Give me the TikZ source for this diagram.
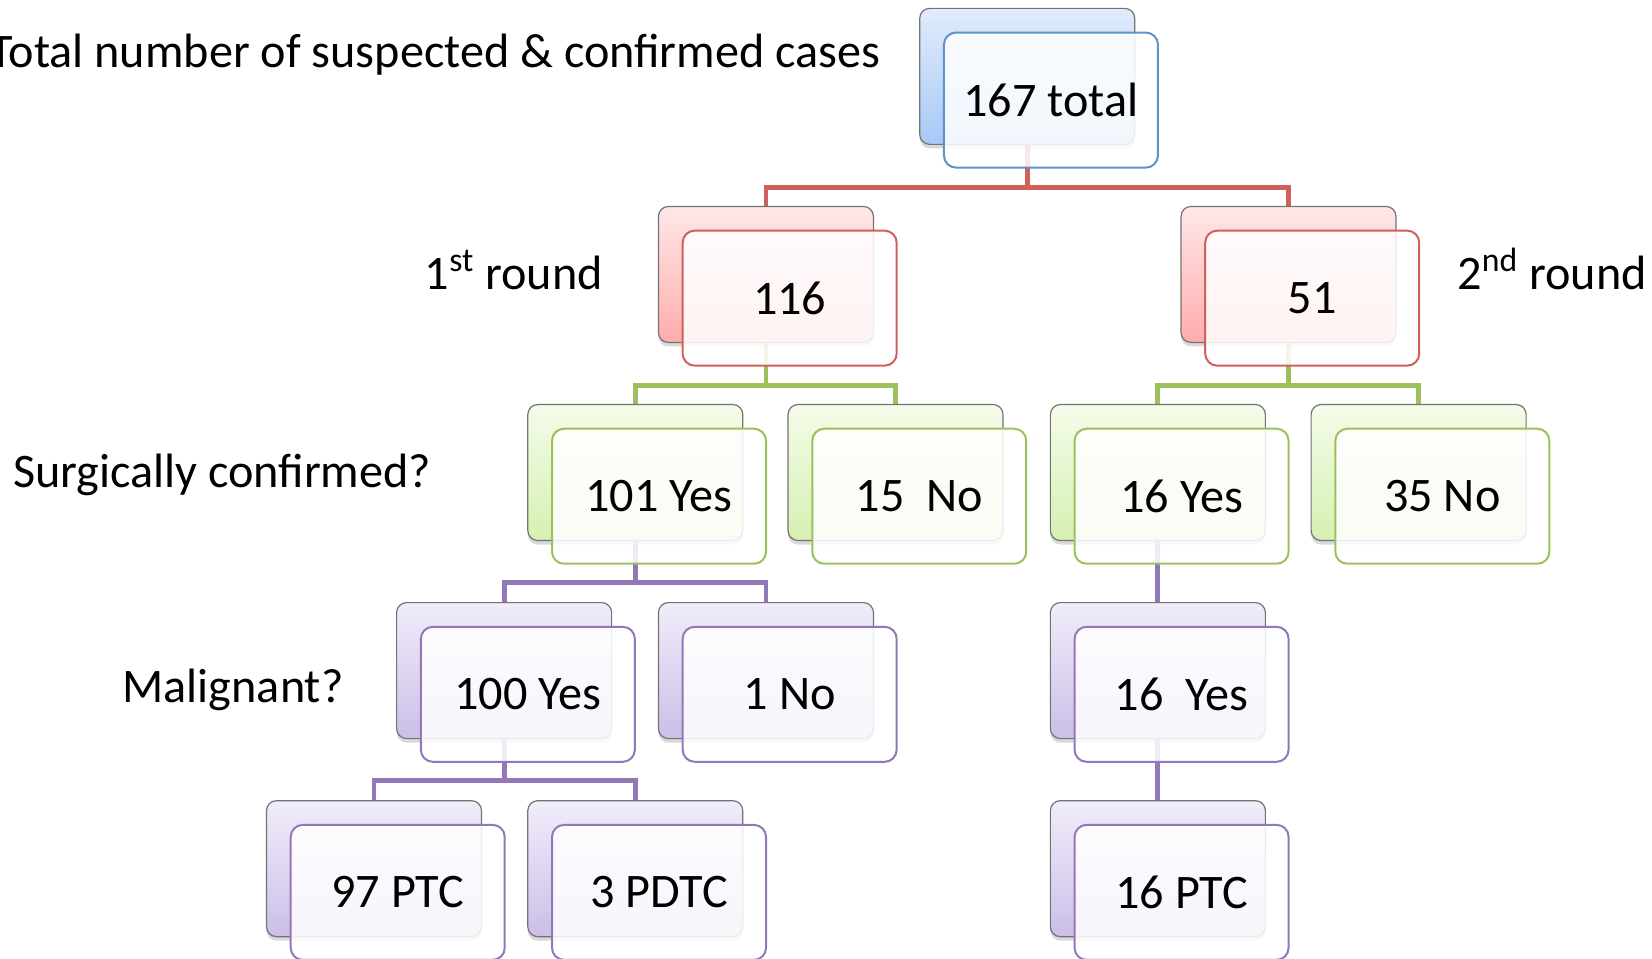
\documentclass[tikz,border=0pt]{standalone}
\usepackage{fontspec}
\setmainfont{Carlito}
\usetikzlibrary{shadows,backgrounds}

\definecolor{bluedge}{RGB}{95,145,205}
\definecolor{bluetop}{RGB}{224,235,252}
\definecolor{bluebot}{RGB}{168,200,246}
\definecolor{rededge}{RGB}{207,96,90}
\definecolor{redtop}{RGB}{255,232,232}
\definecolor{redbot}{RGB}{255,172,172}
\definecolor{greenedge}{RGB}{158,192,92}
\definecolor{greentop}{RGB}{244,252,233}
\definecolor{greenbot}{RGB}{214,240,178}
\definecolor{purpledge}{RGB}{146,120,182}
\definecolor{purpletop}{RGB}{241,237,250}
\definecolor{purplebot}{RGB}{204,190,232}

\begin{document}
\begin{tikzpicture}[x=0.5268pt, y=-0.5268pt,
  font=\fontsize{24.1}{29}\selectfont,
  label/.style={inner sep=0pt},
  back/.style={draw=black!55, line width=0.6pt, rounded corners=5pt,
    minimum width=107.5pt, minimum height=68pt,
    drop shadow={shadow xshift=0pt, shadow yshift=-2pt, opacity=0.3}},
  front/.style={rounded corners=6pt, line width=1pt, fill=white,
    fill opacity=0.86, text opacity=1, minimum width=107pt,
    minimum height=67.5pt, shift={(22.5,22.5)}},
  blueback/.style={back, top color=bluetop, bottom color=bluebot},
  bluefront/.style={front, draw=bluedge},
  redback/.style={back, top color=redtop, bottom color=redbot},
  redfront/.style={front, draw=rededge},
  greenback/.style={back, top color=greentop, bottom color=greenbot},
  greenfront/.style={front, draw=greenedge},
  purpleback/.style={back, top color=purpletop, bottom color=purplebot},
  purplefront/.style={front, draw=purpledge},
  redline/.style={draw=rededge, line width=2.4pt},
  greenline/.style={draw=greenedge, line width=2.4pt},
  purpleline/.style={draw=purpledge, line width=2.4pt}]
\useasboundingbox (0,0) rectangle (1568,910);

% row labels
\node[label, anchor=base east] (ltotal) at (836,64) {Total number of suspected \& confirmed cases};
\node[label, anchor=base west] (lround1) at (403,275) {1\textsuperscript{st} round};
\node[label, anchor=base west] (lround2) at (1383,275) {2\textsuperscript{nd} round};
\node[label, anchor=base west] (lsurg) at (12,463) {Surgically confirmed?};
\node[label, anchor=base west] (lmalig) at (116,667) {Malignant?};

% all cases
\node[blueback] (tot) at (975,72.5) {};
\node[bluefront] (totf) at (tot) {167 total};

% rounds
\node[redback] (r1) at (727,260.5) {};
\node[redfront] (r1f) at (r1) {116};
\node[redback] (r2) at (1223,260.5) {};
\node[redfront] (r2f) at (r2) {51};

% surgically confirmed
\node[greenback] (s1y) at (603,448.5) {};
\node[greenfront] (s1yf) at (s1y) {101 Yes};
\node[greenback] (s1n) at (850,448.5) {};
\node[greenfront] (s1nf) at (s1n) {15~ No};
\node[greenback] (s2y) at (1099,448.5) {};
\node[greenfront] (s2yf) at (s2y) {16 Yes};
\node[greenback] (s2n) at (1346.5,448.5) {};
\node[greenfront] (s2nf) at (s2n) {35 No};

% malignant
\node[purpleback] (m1y) at (478.5,636.5) {};
\node[purplefront] (m1yf) at (m1y) {100 Yes};
\node[purpleback] (m1n) at (727,636.5) {};
\node[purplefront] (m1nf) at (m1n) {1 No};
\node[purpleback] (m2y) at (1099,636.5) {};
\node[purplefront] (m2yf) at (m2y) {16~ Yes};

% histology
\node[purpleback] (h1a) at (355,824.5) {};
\node[purplefront] (h1af) at (h1a) {97 PTC};
\node[purpleback] (h1b) at (603,824.5) {};
\node[purplefront] (h1bf) at (h1b) {3 PDTC};
\node[purpleback] (h2a) at (1099,824.5) {};
\node[purplefront] (h2af) at (h2a) {16 PTC};

% connectors
\coordinate (bar1) at (0,178);
\coordinate (bar2) at (0,366);
\coordinate (bar3) at (0,553);
\coordinate (bar4) at (0,741);
\begin{scope}[on background layer]
\draw[redline] (tot) -- (tot |- bar1) -| (r1);
\draw[redline] (tot |- bar1) -| (r2);
\draw[greenline] (r1) -- (r1 |- bar2) -| (s1y);
\draw[greenline] (r1 |- bar2) -| (s1n);
\draw[greenline] (r2) -- (r2 |- bar2) -| (s2y);
\draw[greenline] (r2 |- bar2) -| (s2n);
\draw[purpleline] (s1y) -- (s1y |- bar3) -| (m1y);
\draw[purpleline] (s1y |- bar3) -| (m1n);
\draw[purpleline] (s2y) -- (m2y);
\draw[purpleline] (m1y) -- (m1y |- bar4) -| (h1a);
\draw[purpleline] (m1y |- bar4) -| (h1b);
\draw[purpleline] (m2y) -- (h2a);
\end{scope}
\end{tikzpicture}
\end{document}
